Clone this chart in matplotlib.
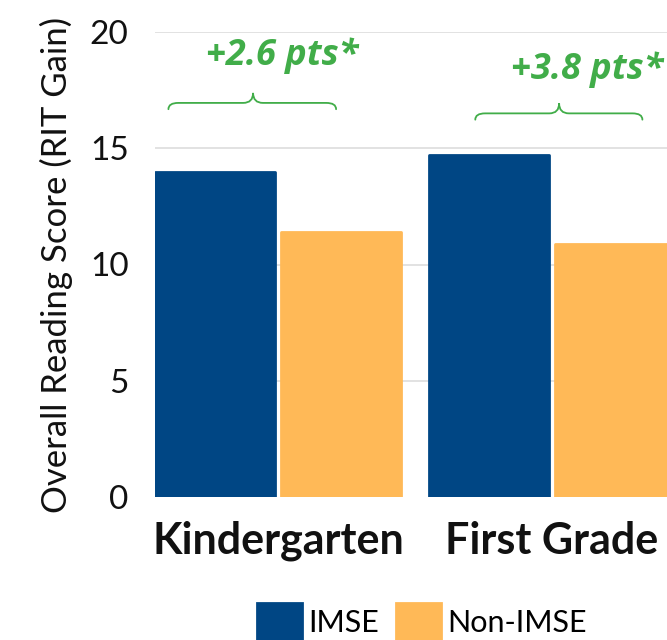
import numpy as np
import matplotlib
matplotlib.use('Agg')
import matplotlib.pyplot as plt
from matplotlib.path import Path
from matplotlib.patches import PathPatch

# data
grades = ['Kindergarten', 'First Grade']
imse = [14.0, 14.7]
non_imse = [11.4, 10.9]
series = ['IMSE', 'Non-IMSE']
gain_labels = ['+2.6 pts*', '+3.8 pts*']
yticks = [0, 5, 10, 15, 20]

BLUE = '#004684'
ORANGE = '#ffb957'
GREEN = '#41ad49'

plt.rcParams['font.family'] = ['Lato', 'DejaVu Sans']


def draw_brace(ax, x0, x1, xc, base, drop, tip, r, color):
    """Horizontal curly brace with the cusp pointing up."""
    verts = [(x0, base - drop), (x0, base), (x0 + r, base),
             (xc - r, base), (xc, base), (xc, base + tip),
             (xc, base), (xc + r, base),
             (x1 - r, base), (x1, base), (x1, base - drop)]
    codes = [Path.MOVETO, Path.CURVE3, Path.CURVE3,
             Path.LINETO, Path.CURVE3, Path.CURVE3,
             Path.CURVE3, Path.CURVE3,
             Path.LINETO, Path.CURVE3, Path.CURVE3]
    ax.add_patch(PathPatch(Path(verts, codes), fill=False, edgecolor=color,
                           lw=1.3, capstyle='round', zorder=4))


fig = plt.figure(figsize=(6.67, 6.4), dpi=100)
ax = fig.add_axes([155 / 667, 143 / 640, 520 / 667, 465 / 640])

x = np.arange(len(grades))
w = 0.438
off = 0.23
ax.bar(x - off, imse, w, color=BLUE, edgecolor=BLUE, lw=2,
       joinstyle='round', label=series[0], zorder=3)
ax.bar(x + off, non_imse, w, color=ORANGE, edgecolor=ORANGE, lw=2,
       joinstyle='round', label=series[1], zorder=3)

ax.set_xlim(-0.449, 1.449)
ax.set_ylim(0, 20)
ax.set_yticks(yticks)
ax.set_yticklabels([str(t) for t in yticks], fontsize=24, color='#111111')
ax.set_xticks(x)
ax.set_xticklabels(grades, fontsize=31, fontweight='bold', color='#111111')
ax.tick_params(axis='both', length=0)
ax.tick_params(axis='y', pad=19)
ax.tick_params(axis='x', pad=17)
for s in ax.spines.values():
    s.set_visible(False)
for t in yticks[1:]:
    ax.axhline(t, color='#dddddd', lw=1.2, zorder=1)
ax.set_ylabel('Overall Reading Score (RIT Gain)', fontsize=25,
              color='#111111', labelpad=12)

# gain annotations (layout positions in data units)
text_pos = [(0.015, 19.0), (1.128, 18.37)]
brace_pos = [(-0.40, 0.212, -0.091, 16.95), (0.72, 1.33, 1.026, 16.5)]
for i in range(len(grades)):
    tx, ty = text_pos[i]
    ax.text(tx, ty, gain_labels[i], ha='center', va='center',
            fontsize=26, fontweight='bold', fontstyle='italic', color=GREEN,
            family=['Open Sans', 'DejaVu Sans'], clip_on=False)
    bx0, bx1, bxc, by = brace_pos[i]
    draw_brace(ax, bx0, bx1, bxc, by, 0.27, 0.43, 0.036, GREEN)

fig.legend(loc='center', bbox_to_anchor=(422 / 667, 18 / 640), ncol=2,
           frameon=False, fontsize=22, handlelength=1.47, handleheight=1.5,
           handletextpad=0.2, columnspacing=0.55)

fig.savefig('out.png', dpi=100)
